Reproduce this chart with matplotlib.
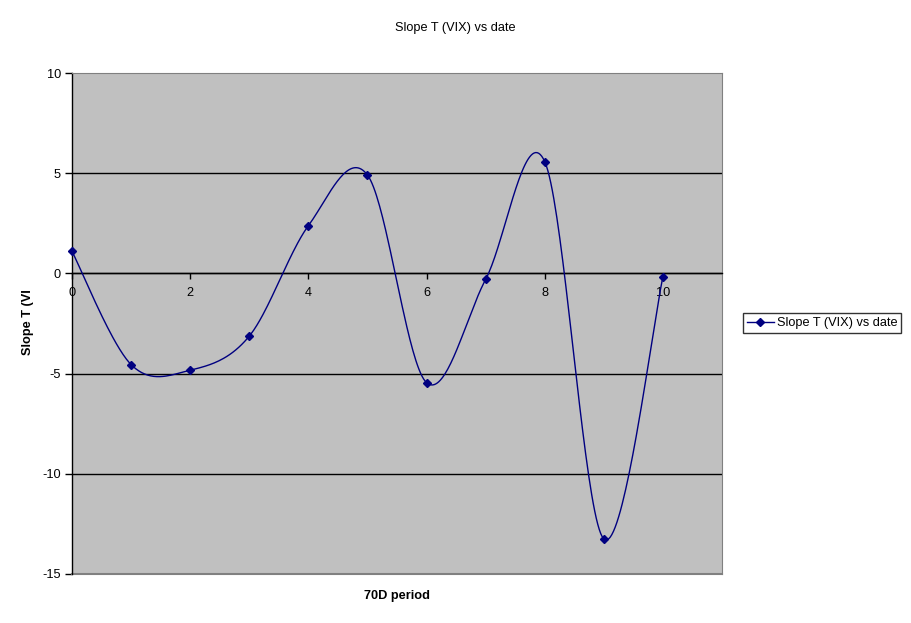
import numpy as np
import matplotlib
matplotlib.use("Agg")
import matplotlib.pyplot as plt
from matplotlib.lines import Line2D

plt.rcParams['font.family'] = ['Liberation Sans', 'DejaVu Sans']
plt.rcParams['axes.unicode_minus'] = False

# Data
periods = [0, 1, 2, 3, 4, 5, 6, 7, 8, 9, 10]
slope_vals = [1.1, -4.55, -4.83, -3.13, 2.38, 4.91, -5.45, -0.3, 5.58, -13.25, -0.18]
series_name = "Slope T (VIX) vs date"
title = "Slope T (VIX) vs date"
xlabel = "70D period"
ylabel = "Slope T (VI"
xticks = [0, 2, 4, 6, 8, 10]
yticks = [-15, -10, -5, 0, 5, 10]

navy = "#000080"
FS = 9.2

def smooth(xs, ys, n=40):
    # Catmull-Rom (Excel-like) smoothing through the points
    P = np.column_stack([xs, ys]).astype(float)
    P = np.vstack([P[0], P, P[-1]])
    out = []
    for i in range(1, len(P) - 2):
        p0, p1, p2, p3 = P[i - 1], P[i], P[i + 1], P[i + 2]
        c1 = p1 + (p2 - p0) / 6.0
        c2 = p2 - (p3 - p1) / 6.0
        t = np.linspace(0, 1, n)[:, None]
        seg = ((1 - t) ** 3) * p1 + 3 * ((1 - t) ** 2) * t * c1 + 3 * (1 - t) * t ** 2 * c2 + t ** 3 * p2
        out.append(seg if i == 1 else seg[1:])
    out = np.vstack(out)
    return out[:, 0], out[:, 1]

fig = plt.figure(figsize=(9.11, 6.23), dpi=100)
ax = fig.add_axes([72 / 911, (623 - 574) / 623, 650 / 911, 501 / 623])
ax.set_facecolor("#C0C0C0")
ax.set_xlim(0, 11)
ax.set_ylim(-15, 10)

for y in [-10, -5, 0, 5]:
    ax.axhline(y, color="black", lw=1.0, zorder=1)

sx, sy = smooth(periods, slope_vals)
ax.plot(sx, sy, color=navy, lw=1.0, zorder=3)
ax.plot(periods, slope_vals, linestyle="none", marker="D", markersize=4.3,
        color=navy, zorder=4, clip_on=False)

# spines
ax.spines['bottom'].set_position(('data', 0))
ax.spines['bottom'].set_color("black")
ax.spines['bottom'].set_linewidth(1.0)
ax.spines['left'].set_color("black")
ax.spines['left'].set_linewidth(1.0)
ax.spines['top'].set_color("#808080")
ax.spines['right'].set_color("#808080")
ax.axhline(-15, color="#808080", lw=1.5, zorder=2, clip_on=False)

ax.set_xticks(xticks)
ax.set_yticks(yticks)
ax.tick_params(axis='x', direction='out', length=4, width=1, labelsize=FS, pad=6)
ax.tick_params(axis='y', direction='out', length=5, width=1, labelsize=FS, pad=3)

fig.text(455 / 911, 1 - 28 / 623, title, ha="center", va="center", fontsize=FS)
fig.text(397 / 911, 1 - 596 / 623, xlabel, ha="center", va="center",
         fontsize=FS, fontweight="bold")
fig.text(28 / 911, 1 - 322 / 623, ylabel, ha="center", va="center",
         fontsize=FS, fontweight="bold", rotation=90)

handle = Line2D([], [], color=navy, lw=1.0, marker="D", markersize=4.3)
leg = fig.legend([handle], [series_name], loc="center left",
                 bbox_to_anchor=(743 / 911, 1 - 323 / 623), fontsize=FS,
                 frameon=True, fancybox=False, edgecolor="black",
                 handlelength=2.1, handletextpad=0.25, borderpad=0.3,
                 borderaxespad=0)
leg.get_frame().set_linewidth(1.0)

fig.savefig("out.png", dpi=100)
